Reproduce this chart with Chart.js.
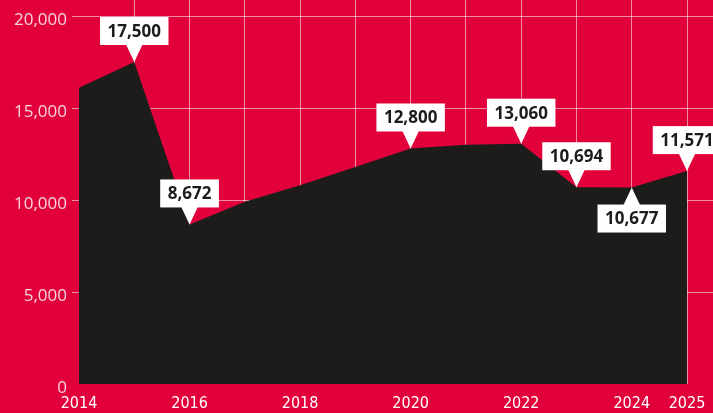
<!DOCTYPE html>
<html>
<head>
<meta charset="utf-8">
<script src="https://cdn.jsdelivr.net/npm/chart.js@4.4.0/dist/chart.umd.min.js"></script>
<style>
  html, body { margin: 0; padding: 0; background: #e2003b; }
  #wrap { width: 713px; height: 413px; }
</style>
</head>
<body>
<div id="wrap"><canvas id="chart" width="713" height="413"></canvas></div>
<script>
const years = [2014, 2015, 2016, 2017, 2018, 2019, 2020, 2021, 2022, 2023, 2024, 2025];
const values = [16100, 17500, 8672, 9900, 10800, 11800, 12800, 13000, 13060, 10694, 10677, 11571];
const labelledYears = [2015, 2016, 2020, 2022, 2023, 2024, 2025];
const labelsBelow = [2024];
const tickYears = [2014, 2016, 2018, 2020, 2022, 2024, 2025];
const yTicks = [0, 5000, 10000, 15000, 20000];

const DARK = '#1c1c1b';
const GRID = 'rgba(255,255,255,0.55)';

// white value boxes with a little pointer
const valueLabels = {
  id: 'valueLabels',
  afterDraw(chart) {
    const ctx = chart.ctx;
    const xs = chart.scales.x, ys = chart.scales.y;
    ctx.save();
    ctx.font = 'bold 17px "Open Sans"';
    ctx.textAlign = 'center';
    ctx.textBaseline = 'middle';
    years.forEach((yr, i) => {
      if (!labelledYears.includes(yr)) return;
      const px = xs.getPixelForValue(yr);
      const py = ys.getPixelForValue(values[i]);
      const text = values[i].toLocaleString('en-US');
      const w = ctx.measureText(text).width + 15, h = 28, arrow = 17, half = 8.5;
      const below = labelsBelow.includes(yr);
      const boxTop = below ? py + arrow : py - arrow - h;
      ctx.fillStyle = '#ffffff';
      ctx.fillRect(px - w / 2, boxTop, w, h);
      ctx.beginPath();
      if (below) {
        ctx.moveTo(px, py);
        ctx.lineTo(px - half, py + arrow + 1);
        ctx.lineTo(px + half, py + arrow + 1);
      } else {
        ctx.moveTo(px, py);
        ctx.lineTo(px - half, py - arrow - 1);
        ctx.lineTo(px + half, py - arrow - 1);
      }
      ctx.closePath();
      ctx.fill();
      ctx.fillStyle = DARK;
      ctx.fillText(text, px, boxTop + h / 2 + 1);
    });
    ctx.restore();
  }
};

const chart = new Chart(document.getElementById('chart'), {
  type: 'line',
  data: {
    datasets: [{
      data: years.map((y, i) => ({ x: y, y: values[i] })),
      fill: 'origin',
      backgroundColor: DARK,
      borderWidth: 0,
      pointRadius: 0,
      tension: 0
    }]
  },
  options: {
    responsive: false,
    devicePixelRatio: 1,
    animation: false,
    layout: { padding: 0 },
    plugins: { legend: { display: false }, tooltip: { enabled: false } },
    scales: {
      x: {
        type: 'linear',
        min: 2014,
        max: 2025.47,
        z: 1,
        border: { display: false },
        grid: {
          drawTicks: false,
          color: (c) => (c.tick && c.tick.value === 2014) ? 'rgba(0,0,0,0)' : GRID,
          lineWidth: 1
        },
        ticks: {
          stepSize: 1,
          includeBounds: false,
          autoSkip: false,
          maxRotation: 0,
          padding: 10,
          color: '#ffffff',
          font: { family: '"Liberation Sans Narrow", "DejaVu Sans Condensed", sans-serif', size: 16 },
          callback: (v) => tickYears.includes(v) ? String(v) : ''
        },
        afterFit: (s) => { s.height = 29; s.paddingLeft = 0; s.paddingRight = 0; }
      },
      y: {
        min: 0,
        max: 20870,
        z: 1,
        border: { display: false },
        grid: {
          tickLength: 7,
          color: (c) => (c.tick && c.tick.value === 0) ? 'rgba(0,0,0,0)' : GRID,
          lineWidth: 1
        },
        ticks: {
          autoSkip: false,
          padding: 5,
          labelOffset: 4,
          color: '#f7d3dc',
          font: { family: '"Open Sans", sans-serif', size: 17 },
          callback: (v) => v.toLocaleString('en-US')
        },
        afterBuildTicks: (s) => { s.ticks = yTicks.map(v => ({ value: v })); },
        afterFit: (s) => { s.width = 79; s.paddingTop = 0; s.paddingBottom = 0; }
      }
    }
  },
  plugins: [valueLabels]
});
</script>
</body>
</html>
